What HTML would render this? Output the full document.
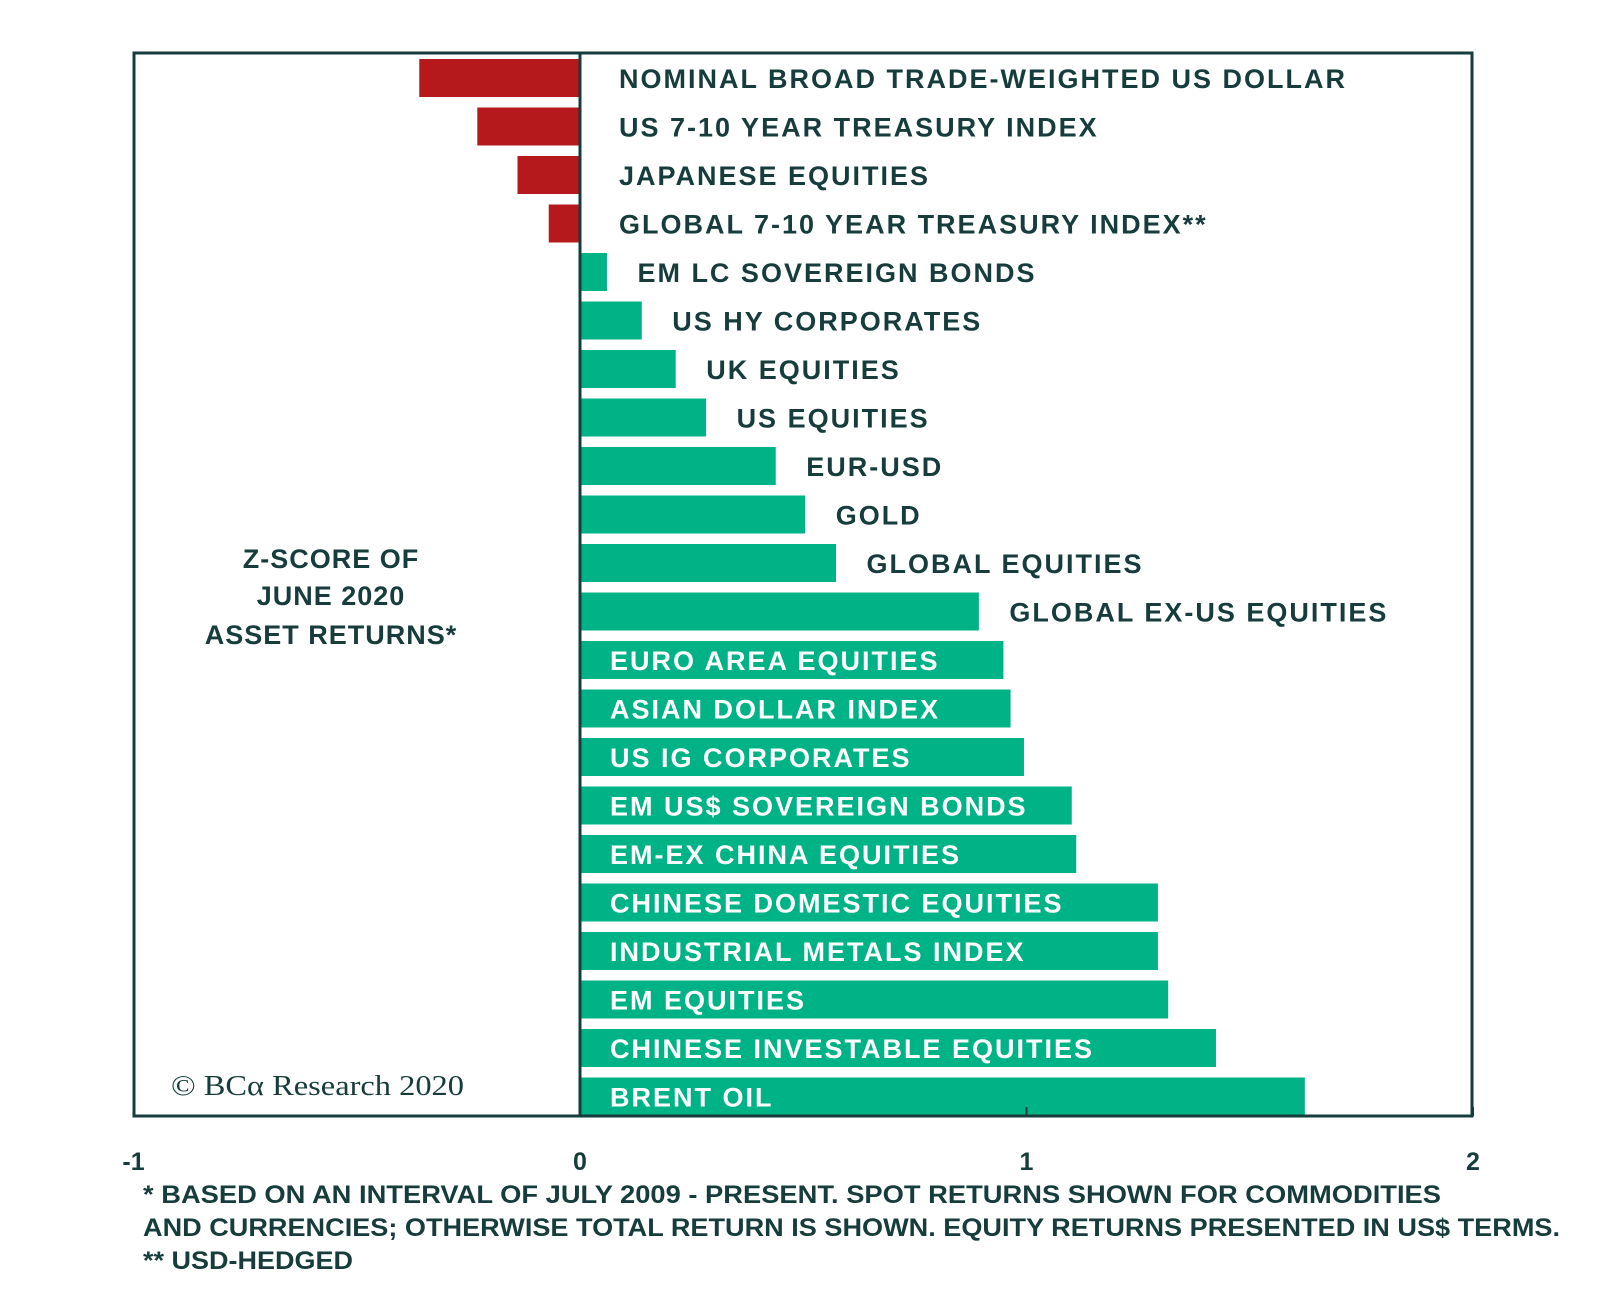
<!DOCTYPE html>
<html><head><meta charset="utf-8">
<style>
html,body{margin:0;padding:0;background:#fff;width:1600px;height:1309px;overflow:hidden}
svg{display:block}
text{font-family:"Liberation Sans",sans-serif;font-weight:bold;fill:#173c3c}
</style></head>
<body>
<svg id="chart" width="1600" height="1309" viewBox="0 0 1600 1309" xmlns="http://www.w3.org/2000/svg">
  <g id="bars"></g>
  <g id="labels"></g>
  <line x1="580" y1="53" x2="580" y2="1116" stroke="#173c3c" stroke-width="3"/>
  <rect x="134" y="53" width="1338" height="1063" fill="none" stroke="#173c3c" stroke-width="3"/>
  <g id="ticks"></g>
  <text x="331" y="568" text-anchor="middle" font-size="27" letter-spacing="1">Z-SCORE OF</text>
  <text x="331" y="605" text-anchor="middle" font-size="27" letter-spacing="1">JUNE 2020</text>
  <text x="331" y="644" text-anchor="middle" font-size="27" letter-spacing="1">ASSET RETURNS*</text>
  <text x="171" y="1095" font-size="28" style="font-family:'Liberation Serif',serif;font-weight:normal" textLength="293" lengthAdjust="spacingAndGlyphs">© BCα Research 2020</text>
  <text x="143" y="1203" font-size="25" textLength="1298" lengthAdjust="spacingAndGlyphs">* BASED ON AN INTERVAL OF JULY 2009 - PRESENT. SPOT RETURNS SHOWN FOR COMMODITIES</text>
  <text x="143" y="1236" font-size="25" textLength="1417" lengthAdjust="spacingAndGlyphs">AND CURRENCIES; OTHERWISE TOTAL RETURN IS SHOWN. EQUITY RETURNS PRESENTED IN US$ TERMS.</text>
  <text x="143" y="1269" font-size="25" textLength="210" lengthAdjust="spacingAndGlyphs">** USD-HEDGED</text>
</svg>
<script>
const categories = ["NOMINAL BROAD TRADE-WEIGHTED  US DOLLAR","US 7-10  YEAR TREASURY INDEX","JAPANESE EQUITIES","GLOBAL  7-10 YEAR  TREASURY INDEX**","EM LC SOVEREIGN BONDS","US HY CORPORATES","UK EQUITIES","US EQUITIES","EUR-USD","GOLD","GLOBAL  EQUITIES","GLOBAL  EX-US EQUITIES","EURO AREA  EQUITIES","ASIAN DOLLAR  INDEX","US IG CORPORATES","EM US$ SOVEREIGN BONDS","EM-EX CHINA EQUITIES","CHINESE DOMESTIC  EQUITIES","INDUSTRIAL METALS INDEX","EM EQUITIES","CHINESE INVESTABLE  EQUITIES","BRENT OIL"];
const values = [-0.36,-0.23,-0.14,-0.07,0.057,0.135,0.211,0.279,0.435,0.501,0.57,0.89,0.945,0.961,0.991,1.098,1.108,1.291,1.291,1.314,1.421,1.62];
const tickValues = [-1,0,1,2];
const tickLabels = ["-1","0","1","2"];
const insideFrom = 12;

const NS="http://www.w3.org/2000/svg";
function xScale(v){return 580+v*446.5;}
function yScale(i){return 78+i*48.5;}
const barH=38;
const gBars=document.getElementById('bars'), gLab=document.getElementById('labels'), gT=document.getElementById('ticks');
values.forEach((v,i)=>{
  const r=document.createElementNS(NS,'rect');
  const x0=xScale(0), x1=xScale(v);
  r.setAttribute('x',Math.min(x0,x1)+(v>0?1.5:0));
  r.setAttribute('y',yScale(i)-barH/2);
  r.setAttribute('width',Math.abs(x1-x0));
  r.setAttribute('height',barH);
  r.setAttribute('fill',v<0?'#b5191c':'#00b386');
  
  
  gBars.appendChild(r);
  const t=document.createElementNS(NS,'text');
  t.setAttribute('font-size','27');
  t.setAttribute('letter-spacing','2');
  t.setAttribute('y',yScale(i)+10);
  t.setAttribute('xml:space','preserve');
  if(i>=insideFrom){t.setAttribute('x',610);t.style.fill='#fff';}
  else if(v<0){t.setAttribute('x',619);}
  else{t.setAttribute('x',xScale(v)+32);}
  t.textContent=categories[i];
  
  
  gLab.appendChild(t);
});
tickValues.forEach((v,i)=>{
  const t=document.createElementNS(NS,'text');
  t.setAttribute('x',xScale(v));
  t.setAttribute('y',1170);
  t.setAttribute('text-anchor','middle');
  t.setAttribute('font-size','25');
  t.textContent=tickLabels[i];
  
  
  gT.appendChild(t);
  const l=document.createElementNS(NS,'line');
  l.setAttribute('x1',xScale(v));l.setAttribute('x2',xScale(v));
  l.setAttribute('y1',1107);l.setAttribute('y2',1116);
  l.setAttribute('stroke','#173c3c');l.setAttribute('stroke-width','2');
  
  
  gT.appendChild(l);
});
</script>
</body></html>
